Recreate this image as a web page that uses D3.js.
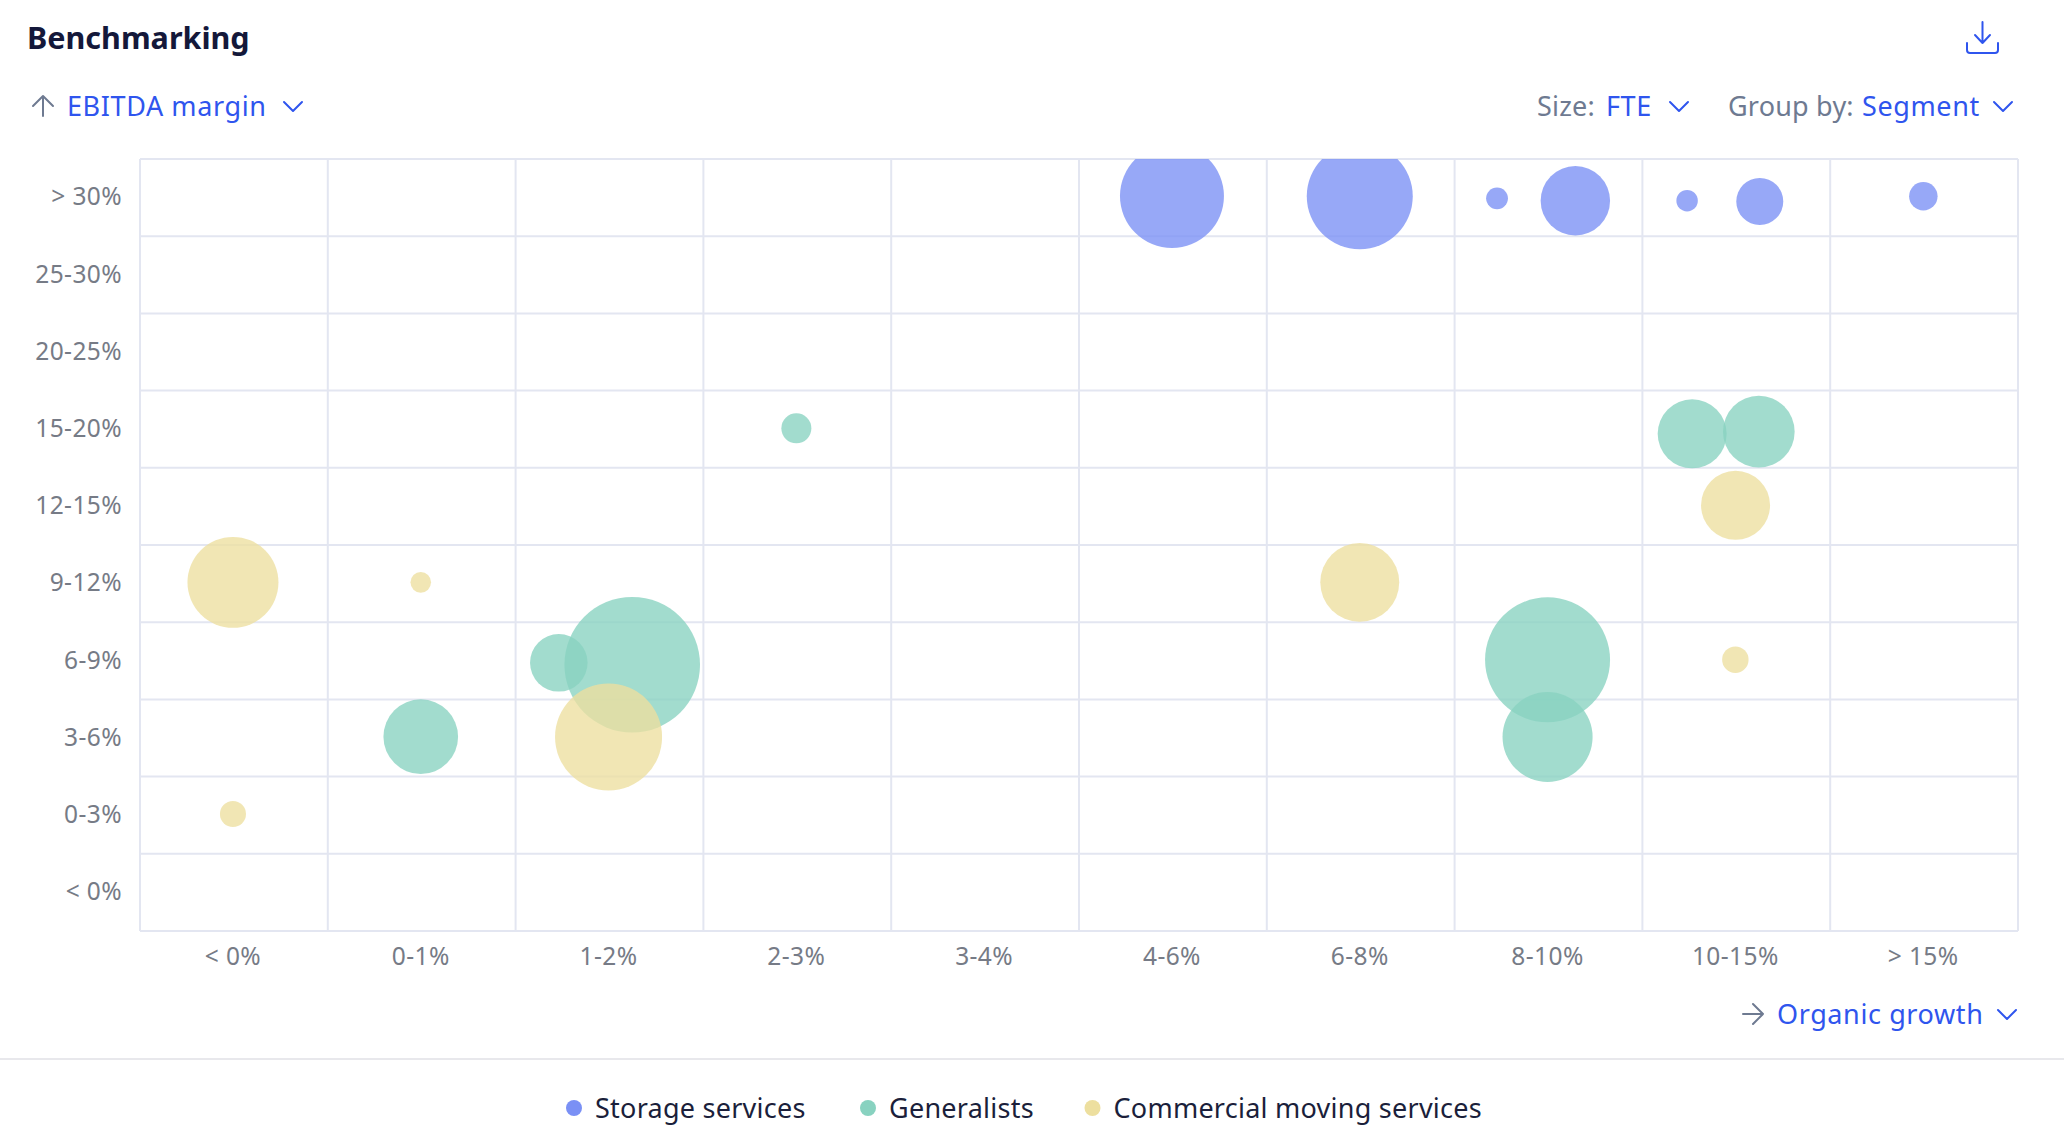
<!DOCTYPE html>
<html>
<head>
<meta charset="utf-8">
<script src="https://cdn.jsdelivr.net/npm/d3@7"></script>
<style>
  body { margin: 0; background: #fff; }
  svg { display: block; font-family: "Noto Sans", Lato, sans-serif; }
  .tick text, .label { font-size: 24.5px; letter-spacing: 0.4px; fill: #767b86; font-family: "Noto Sans", Lato, sans-serif; }
  .ctrl { font-size: 27px; letter-spacing: 0.6px; }
  .blue { fill: #2f55ee; }
  .grey { fill: #6e7a91; letter-spacing: 0.2px; }
  .icon { fill: none; stroke-width: 2; stroke-linecap: round; stroke-linejoin: round; }
</style>
</head>
<body>
<div id="chart"></div>
<script>
// 1: DATA
const growthBuckets = ["< 0%", "0-1%", "1-2%", "2-3%", "3-4%", "4-6%", "6-8%", "8-10%", "10-15%", "> 15%"];
const marginBuckets = ["> 30%", "25-30%", "20-25%", "15-20%", "12-15%", "9-12%", "6-9%", "3-6%", "0-3%", "< 0%"];
const segments = ["Storage services", "Generalists", "Commercial moving services"];

// growth / margin are read in bucket units (0 = left / bottom edge of the grid)
const storageGrowth = [5.495, 6.495, 7.226, 7.643, 8.238, 8.625, 9.496];
const storageMargin = [9.52, 9.517, 9.49, 9.46, 9.46, 9.45, 9.517];
const storageFte = [588, 611, 26, 262, 25, 120, 44];

const generalistGrowth = [3.495, 8.265, 8.62, 2.621, 2.23, 1.495, 7.495, 7.495];
const generalistMargin = [6.512, 6.44, 6.468, 3.449, 3.474, 2.517, 3.513, 2.513];
const generalistFte = [49, 259, 279, 1000, 180, 303, 850, 441];

const commercialGrowth = [0.495, 1.495, 6.495, 8.496, 8.495, 2.495, 0.495];
const commercialMargin = [4.516, 4.516, 4.516, 5.514, 3.514, 2.513, 1.515];
const commercialFte = [450, 23, 339, 259, 38, 623, 37];

const segmentColors = ["#7a90f5", "#88d2c0", "#eddf9f"];

// 2: LAYOUT
const width = 2064, height = 1148;
const plot = { left: 140, right: 2018, top: 159, bottom: 931 };

const svg = d3.select("#chart").append("svg")
    .attr("width", width)
    .attr("height", height);

// 3: SCALES
const x = d3.scaleLinear().domain([0, 10]).range([plot.left, plot.right]);
const y = d3.scaleLinear().domain([0, 10]).range([plot.bottom, plot.top]);
const xBand = d3.scaleBand().domain(growthBuckets).range([plot.left, plot.right]);
const yBand = d3.scaleBand().domain(marginBuckets).range([plot.top, plot.bottom]);
const size = d3.scaleSqrt().domain([0, 1000]).range([0, 67.8]);

// 4: GRID
const grid = svg.append("g").attr("stroke", "#e3e6f1").attr("stroke-width", 2);
grid.selectAll("line.v").data(d3.range(0, 11)).enter().append("line")
    .attr("class", "v")
    .attr("x1", d => x(d)).attr("x2", d => x(d))
    .attr("y1", plot.top).attr("y2", plot.bottom);
grid.selectAll("line.h").data(d3.range(0, 11)).enter().append("line")
    .attr("class", "h")
    .attr("y1", d => y(d)).attr("y2", d => y(d))
    .attr("x1", plot.left).attr("x2", plot.right);

// 5: BUBBLES
svg.append("clipPath").attr("id", "plotClip").append("rect")
    .attr("x", plot.left).attr("y", plot.top)
    .attr("width", plot.right - plot.left).attr("height", plot.bottom - plot.top);

const series = [
    [storageGrowth, storageMargin, storageFte],
    [generalistGrowth, generalistMargin, generalistFte],
    [commercialGrowth, commercialMargin, commercialFte]
];
const bubbles = svg.append("g").attr("clip-path", "url(#plotClip)");
series.forEach((s, i) => {
    bubbles.selectAll(`circle.s${i}`)
        .data(s[0].map((g, j) => ({ growth: g, margin: s[1][j], fte: s[2][j] })))
        .enter().append("circle")
        .attr("class", `s${i}`)
        .attr("cx", d => x(d.growth))
        .attr("cy", d => y(d.margin))
        .attr("r", d => size(d.fte))
        .attr("fill", segmentColors[i])
        .attr("fill-opacity", 0.78);
});

// 6: AXES
svg.append("g")
    .attr("transform", `translate(-1,${plot.bottom})`)
    .call(d3.axisBottom(xBand).tickSize(0).tickPadding(17))
    .call(g => g.select(".domain").remove());

svg.append("g")
    .attr("transform", `translate(${plot.left},0)`)
    .call(d3.axisLeft(yBand).tickSize(0).tickPadding(18))
    .call(g => g.select(".domain").remove());

// 7: HEADER
svg.append("text").attr("x", 27).attr("y", 49)
    .attr("font-size", 30.5).attr("font-weight", 700).attr("fill", "#14183a")
    .text("Benchmarking");

svg.append("text").attr("class", "ctrl blue").attr("x", 67).attr("y", 116).text("EBITDA margin");

const sizeText = svg.append("text").attr("class", "ctrl").attr("y", 116);
sizeText.append("tspan").attr("class", "grey").attr("x", 1537).text("Size:");
sizeText.append("tspan").attr("class", "blue").attr("x", 1606).text("FTE");

const groupText = svg.append("text").attr("class", "ctrl").attr("y", 116);
groupText.append("tspan").attr("class", "grey").attr("x", 1728).text("Group by:");
groupText.append("tspan").attr("class", "blue").attr("x", 1862).text("Segment");

svg.append("text").attr("class", "ctrl blue").attr("x", 1777).attr("y", 1024).text("Organic growth");

// icons
const chevron = (cx, cy) => `M${cx - 9},${cy - 4.5}L${cx},${cy + 4.5}L${cx + 9},${cy - 4.5}`;
[[293, 106.5], [1679, 106.5], [2003, 106.5], [2007, 1014.5]].forEach(([cx, cy]) => {
    svg.append("path").attr("class", "icon").attr("stroke", "#2f55ee").attr("d", chevron(cx, cy));
});
svg.append("path").attr("class", "icon").attr("stroke", "#6e7a91")
    .attr("d", "M43,116V96M33,106L43,96L53,106");
svg.append("path").attr("class", "icon").attr("stroke", "#6e7a91")
    .attr("d", "M1743,1014H1763M1753,1004L1763,1014L1753,1024");
svg.append("path").attr("class", "icon").attr("stroke", "#2f55ee").attr("stroke-width", 2.5)
    .attr("d", "M1982.5,22V43M1975,35L1982.5,43L1990,35M1967,43V50Q1967,53 1970,53H1995Q1998,53 1998,50V43");

// 8: DIVIDER AND LEGEND
svg.append("line").attr("x1", 0).attr("x2", width).attr("y1", 1059).attr("y2", 1059)
    .attr("stroke", "#e8e8ec").attr("stroke-width", 2);

const legendDotX = d3.scaleOrdinal().domain(segments).range([574, 868, 1092.5]);
const legend = svg.selectAll("g.legend").data(segments).enter().append("g")
    .attr("class", "legend")
    .attr("transform", d => `translate(${legendDotX(d)},1108)`);
legend.append("circle").attr("r", 8).attr("fill", (d, i) => segmentColors[i]);
legend.append("text").attr("x", 21).attr("y", 10)
    .attr("font-size", 27).attr("letter-spacing", 0.25).attr("fill", "#1b1f3b")
    .text(d => d);
</script>
</body>
</html>
